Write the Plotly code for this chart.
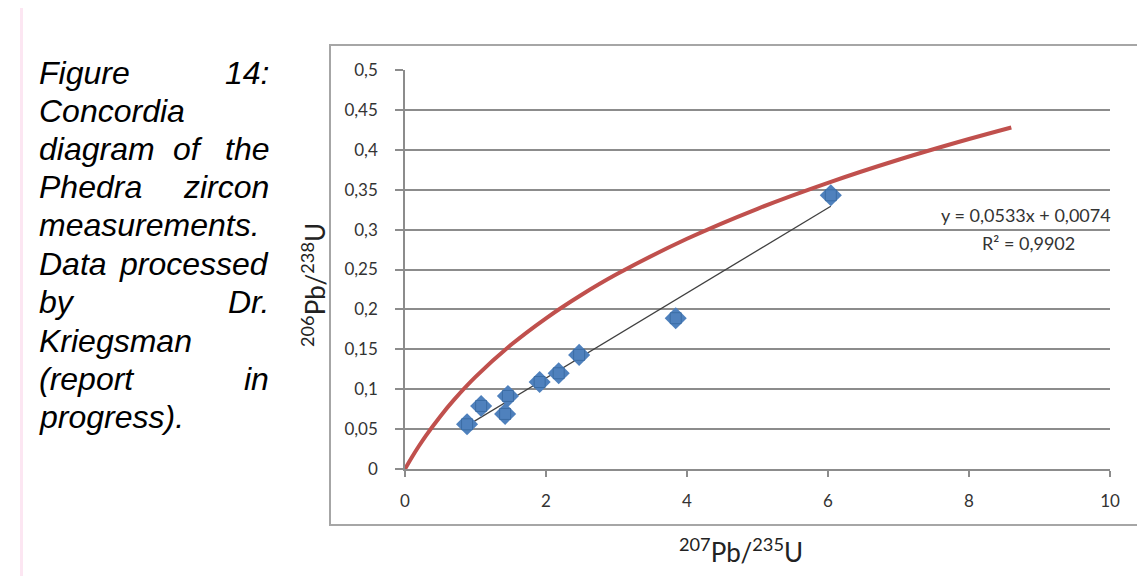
import plotly.graph_objects as go

# ---- data ----
pb207_u235 = [0.88, 1.08, 1.42, 1.46, 1.91, 2.18, 2.47, 3.84, 6.04]
pb206_u238 = [0.056, 0.079, 0.069, 0.0915, 0.109, 0.120, 0.143, 0.189, 0.343]

concordia_x = [0, 0.1, 0.2, 0.3, 0.5, 0.7, 1, 1.5, 2, 2.5, 3, 4, 5, 6, 7, 8, 8.6]
concordia_y = [0, 0.0151, 0.0291, 0.0422, 0.0659, 0.0872, 0.1154, 0.1553, 0.1889,
               0.2181, 0.2440, 0.2885, 0.3261, 0.3586, 0.3875, 0.4135, 0.4280]

trend_slope = 0.0533
trend_intercept = 0.0074

x_tickvals = [0, 2, 4, 6, 8, 10]
x_ticktext = ["0", "2", "4", "6", "8", "10"]
y_tickvals = [0, 0.05, 0.1, 0.15, 0.2, 0.25, 0.3, 0.35, 0.4, 0.45, 0.5]
y_ticktext = ["0", "0,05", "0,1", "0,15", "0,2", "0,25", "0,3", "0,35", "0,4", "0,45", "0,5"]

# ---- geometry (page shows the figure offset by 8px body margin) ----
OFF = 8
W, H = 1145, 576
ML, MT = 405 - OFF, 70 - OFF
MR = W - (1110 - OFF)
MB = H - (469 - OFF)
PW, PH = W - ML - MR, H - MT - MB


def px(x):
    return (x - OFF - ML) / PW


def py(y):
    return (H - MB - (y - OFF)) / PH


TICKFONT = dict(family="Lato, Open Sans, sans-serif", size=17, color="#333333")
GRID = "#8c8c8c"

fig = go.Figure()

fig.add_trace(go.Scatter(
    x=concordia_x, y=concordia_y, mode="lines",
    line=dict(color="#c0504d", width=4, shape="spline"),
    hoverinfo="skip", showlegend=False))

tx = [min(pb207_u235), max(pb207_u235)]
ty = [trend_slope * v + trend_intercept for v in tx]
fig.add_trace(go.Scatter(
    x=tx, y=ty, mode="lines",
    line=dict(color="#404040", width=1.3),
    showlegend=False))

fig.add_trace(go.Scatter(
    x=pb207_u235, y=pb206_u238, mode="markers",
    marker=dict(symbol="diamond", size=17, color="#4f81bd",
                line=dict(color="#4a7ab5", width=0)),
    showlegend=False))
fig.add_trace(go.Scatter(
    x=pb207_u235, y=pb206_u238, mode="markers",
    marker=dict(symbol="square", size=11, color="#4f81bd",
                line=dict(color="#2f5f95", width=0.6)),
    showlegend=False))

fig.update_layout(
    width=W, height=H,
    margin=dict(l=ML, r=MR, t=MT, b=MB),
    paper_bgcolor="white", plot_bgcolor="white",
    showlegend=False,
    xaxis=dict(range=[0, 10], tickvals=x_tickvals, ticktext=x_ticktext,
               showgrid=False, zeroline=False, showline=True,
               linecolor=GRID, linewidth=1.5,
               ticks="outside", ticklen=6, tickcolor=GRID, tickwidth=1.5,
               tickfont=TICKFONT, ticklabelstandoff=10, fixedrange=True),
    yaxis=dict(range=[0, 0.5], tickvals=y_tickvals, ticktext=y_ticktext,
               showgrid=True, gridcolor=GRID, gridwidth=1.5,
               zeroline=False, showline=True,
               linecolor=GRID, linewidth=1.5,
               ticks="outside", ticklen=8, tickcolor=GRID, tickwidth=1.5,
               tickfont=TICKFONT, ticklabelstandoff=14, fixedrange=True),
)

shapes = [
    # pink page edges
    dict(type="rect", xref="paper", yref="paper",
         x0=px(20), x1=px(1160), y0=py(-10), y1=py(4),
         fillcolor="#fce6f2", line=dict(width=0), layer="below"),
    dict(type="rect", xref="paper", yref="paper",
         x0=px(20), x1=px(23), y0=py(-10), y1=py(590),
         fillcolor="#fce6f2", line=dict(width=0), layer="below"),
    # chart frame
    dict(type="rect", xref="paper", yref="paper",
         x0=px(330), x1=px(1170), y0=py(45), y1=py(525),
         fillcolor="rgba(0,0,0,0)", line=dict(color="#a6a6a6", width=2),
         layer="below"),
]
fig.update_layout(shapes=shapes)

ann = []
TITLEFONT = dict(family="Lato, Open Sans, sans-serif", size=26, color="#222222")
ann.append(dict(text="<sup>206</sup>Pb/<sup>238</sup>U", x=px(313), y=py(285),
                xref="paper", yref="paper", textangle=-90, showarrow=False,
                xanchor="center", yanchor="middle", font=TITLEFONT))
ann.append(dict(text="<sup>207</sup>Pb/<sup>235</sup>U", x=px(741), y=py(550),
                xref="paper", yref="paper", showarrow=False,
                xanchor="center", yanchor="middle", font=TITLEFONT))
EQFONT = dict(family="Lato, Open Sans, sans-serif", size=18, color="#333333")
ann.append(dict(text="y = 0,0533x + 0,0074", x=px(1026), y=py(215),
                xref="paper", yref="paper", showarrow=False,
                xanchor="center", yanchor="middle", font=EQFONT))
ann.append(dict(text="R² = 0,9902", x=px(1028), y=py(243),
                xref="paper", yref="paper", showarrow=False,
                xanchor="center", yanchor="middle", font=EQFONT))

# caption (justified lines, words placed individually)
CAPFONT = dict(family="Liberation Sans, Arial, sans-serif", size=32, color="#000000")
caption = [
    (73, [("Figure", 38, "left"), ("14:", 270, "right")]),
    (111, [("Concordia", 38, "left")]),
    (149, [("diagram", 38, "left"), ("of", 188, "center"), ("the", 270, "right")]),
    (187, [("Phedra", 38, "left"), ("zircon", 270, "right")]),
    (225, [("measurements.", 38, "left")]),
    (264, [("Data", 38, "left"), ("processed", 270, "right")]),
    (302, [("by", 38, "left"), ("Dr.", 270, "right")]),
    (341, [("Kriegsman", 38, "left")]),
    (379, [("(report", 38, "left"), ("in", 270, "right")]),
    (417, [("progress).", 38, "left")]),
]
for yy, words in caption:
    for w, xx, anc in words:
        ann.append(dict(text="<i>" + w + "</i>", x=px(xx), y=py(yy),
                        xref="paper", yref="paper", showarrow=False,
                        xanchor=anc, yanchor="middle", font=CAPFONT,
                        borderpad=0))
fig.update_layout(annotations=ann)

fig.write_html("out.html")
